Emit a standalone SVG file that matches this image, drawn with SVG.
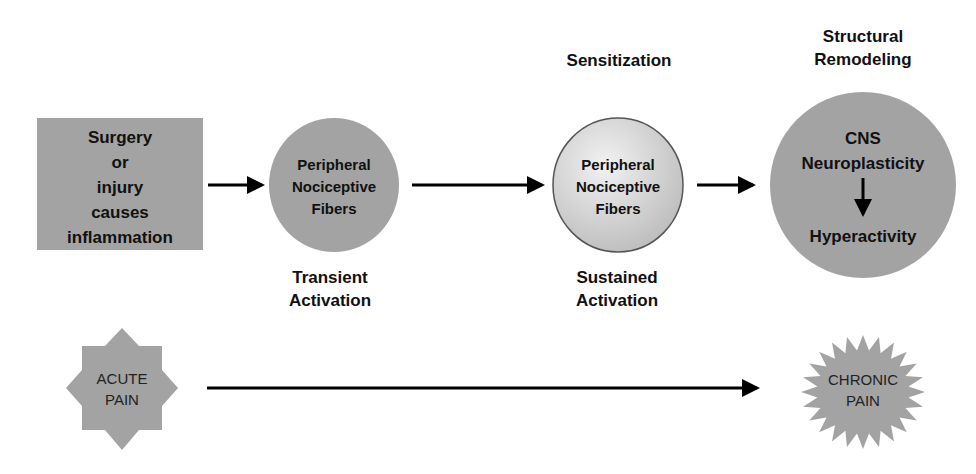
<svg xmlns="http://www.w3.org/2000/svg" width="976" height="474" viewBox="0 0 976 474">
<style>
.b{font-family:"Liberation Sans",Arial,sans-serif;font-weight:bold;font-size:17px;text-anchor:middle;fill:#111}
.s{font-family:"Liberation Sans",Arial,sans-serif;font-weight:bold;font-size:15px;text-anchor:middle;fill:#111}
.n{font-family:"Liberation Sans",Arial,sans-serif;font-size:15px;text-anchor:middle;fill:#222}
.c{stroke:#000;stroke-width:3;fill:none}
.g{fill:#a3a3a3}
</style>
<defs>
<marker id="ah" markerWidth="6" markerHeight="6" refX="5" refY="3" orient="auto" markerUnits="strokeWidth"><path d="M0,0 L6,3 L0,6 Z" fill="#000"/></marker>
<radialGradient id="lg" cx="0.4" cy="0.35" r="0.7"><stop offset="0" stop-color="#f2f2f2"/><stop offset="1" stop-color="#bcbcbc"/></radialGradient>
</defs>
<rect width="976" height="474" fill="#fff"/>
<g id="connectors">
<line class="c" x1="208" y1="185" x2="262" y2="185" marker-end="url(#ah)"/>
<line class="c" x1="412" y1="185" x2="542" y2="185" marker-end="url(#ah)"/>
<line class="c" x1="697" y1="185" x2="753" y2="185" marker-end="url(#ah)"/>
<line class="c" x1="207" y1="388" x2="757" y2="388" marker-end="url(#ah)"/>
</g>
<g id="surgery">
<rect class="g" x="37" y="118" width="166" height="132"/>
<text class="b" x="120" y="143">Surgery</text>
<text class="b" x="120" y="168">or</text>
<text class="b" x="120" y="193">injury</text>
<text class="b" x="120" y="218">causes</text>
<text class="b" x="120" y="243">inflammation</text>
</g>
<g id="pnf1">
<ellipse class="g" cx="334" cy="185" rx="65" ry="67"/>
<text class="s" x="334" y="170">Peripheral</text>
<text class="s" x="334" y="192">Nociceptive</text>
<text class="s" x="334" y="214">Fibers</text>
</g>
<g id="transient">
<text class="b" x="330" y="283">Transient</text>
<text class="b" x="330" y="306">Activation</text>
</g>
<g id="pnf2">
<ellipse cx="618" cy="185" rx="65" ry="67" fill="url(#lg)" stroke="#555" stroke-width="1.5"/>
<text class="s" x="618" y="170">Peripheral</text>
<text class="s" x="618" y="192">Nociceptive</text>
<text class="s" x="618" y="214">Fibers</text>
</g>
<g id="sensitization"><text class="b" x="619" y="66">Sensitization</text></g>
<g id="sustained">
<text class="b" x="617" y="283">Sustained</text>
<text class="b" x="617" y="306">Activation</text>
</g>
<g id="structural">
<text class="b" x="863" y="42">Structural</text>
<text class="b" x="863" y="65">Remodeling</text>
</g>
<g id="cns">
<circle class="g" cx="863" cy="185" r="93"/>
<text class="b" x="863" y="144">CNS</text>
<text class="b" x="863" y="169">Neuroplasticity</text>
<line class="c" x1="863" y1="178" x2="863" y2="214" marker-end="url(#ah)"/>
<text class="b" x="863" y="242">Hyperactivity</text>
</g>
<g id="acute">
<polygon class="g" points="122,328 139,346 162,346 162,370 178,388 162,406 162,430 139,430 122,450 105,430 82,430 82,406 66,388 82,370 82,346 105,346"/>
<text class="n" x="122" y="384">ACUTE</text>
<text class="n" x="122" y="405">PAIN</text>
</g>
<g id="chronic">
<polygon class="g" points="925,392 908.6,397.5 922.9,406.8 905.5,408.1 916.7,420.5 899.5,417.6 906.8,432.3 891,425.3 894,441.4 880.6,430.8 879,447.1 869,433.6 863,449 857,433.6 847,447.1 845.4,430.8 832,441.4 835,425.3 819.2,432.3 826.5,417.6 809.3,420.5 820.5,408.1 803.1,406.8 817.4,397.5 801,392 817.4,386.5 803.1,377.2 820.5,375.9 809.3,363.5 826.5,366.4 819.2,351.7 835,358.7 832,342.6 845.4,353.2 847,336.9 857,350.4 863,335 869,350.4 879,336.9 880.6,353.2 894,342.6 891,358.7 906.8,351.7 899.5,366.4 916.7,363.5 905.5,375.9 922.9,377.2 908.6,386.5"/>
<text class="n" x="863" y="385">CHRONIC</text>
<text class="n" x="863" y="406">PAIN</text>
</g>
</svg>
